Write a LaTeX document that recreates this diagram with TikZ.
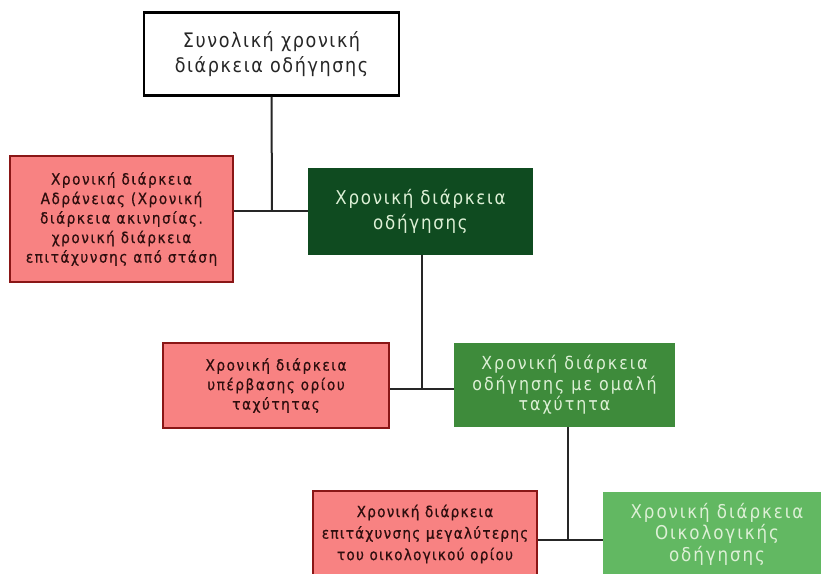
\documentclass[tikz,border=0pt]{standalone}
\usepackage{fontspec}
\usepackage{xcolor}
\usepackage{tikz}
\setmainfont{DejaVu Sans}
\newfontfamily\boxfont[FakeStretch=0.88]{DejaVu Sans}
\definecolor{redfill}{HTML}{F88282}
\definecolor{redline}{HTML}{8A1616}
\definecolor{redtext}{HTML}{2E0E0E}
\definecolor{darkgreen}{HTML}{0F4B20}
\definecolor{midgreen}{HTML}{3E8B3B}
\definecolor{lightgreen}{HTML}{62B862}
\definecolor{greentext}{HTML}{DDF0D6}

\begin{document}
\begin{tikzpicture}[x=1pt,y=-1pt,
    topbox/.style={draw=black,line width=2.4pt,fill=white,align=center,
      minimum width=255pt,minimum height=83pt,inner sep=0pt,
      font=\boxfont\fontsize{20}{25}\selectfont\addfontfeature{LetterSpace=8},text=black!85},
    redbox/.style={draw=redline,line width=2.4pt,fill=redfill,align=center,
      inner sep=0pt,font=\boxfont\fontsize{15.5}{19.5}\selectfont\addfontfeature{LetterSpace=10,FakeBold=0.5},text=redtext},
    greenbox/.style={draw=none,align=center,inner sep=0pt,
      font=\boxfont\fontsize{19}{21.5}\selectfont\addfontfeature{LetterSpace=10},text=greentext},
    link/.style={line width=2pt,black!85}]
    \clip (0,0) rectangle (821,573);
    \fill[white] (0,0) rectangle (821,573);
    \node [topbox] (total) at (271.5,54) {Συνολική χρονική\\διάρκεια οδήγησης};
    \node [redbox,minimum width=223pt,minimum height=126pt] (idle) at (121.5,219)
      {Χρονική διάρκεια\\Αδράνειας (Χρονική\\διάρκεια ακινησίας.\\χρονική διάρκεια\\επιτάχυνσης από στάση};
    \node [greenbox,fill=darkgreen,minimum width=225pt,minimum height=87pt,
      font=\boxfont\fontsize{19}{25}\selectfont\addfontfeature{LetterSpace=9}] (drive) at (420.5,211.5)
      {Χρονική διάρκεια\\οδήγησης};
    \node [redbox,minimum width=226pt,minimum height=85pt] (speeding) at (276,385.5)
      {Χρονική διάρκεια\\υπέρβασης ορίου\\ταχύτητας};
    \node [greenbox,fill=midgreen,minimum width=221pt,minimum height=84pt,
      font=\boxfont\fontsize{18}{20.5}\selectfont\addfontfeature{LetterSpace=11}] (smooth) at (564.5,385)
      {Χρονική διάρκεια\\οδήγησης με ομαλή\\ταχύτητα};
    \node [redbox,minimum width=224pt,minimum height=86pt,
      font=\boxfont\fontsize{15.5}{21.5}\selectfont\addfontfeature{LetterSpace=8,FakeBold=0.5}] (accel) at (425,534)
      {Χρονική διάρκεια\\επιτάχυνσης μεγαλύτερης\\του οικολογικού ορίου};
    \node [greenbox,fill=lightgreen,minimum width=228pt,minimum height=84pt] (eco) at (717,534)
      {Χρονική διάρκεια\\Οικολογικής\\οδήγησης};
    \coordinate (jdrive) at (272,211);
    \coordinate (jsmooth) at (422,389);
    \coordinate (jeco) at (568,540);
    \draw [link] (total.south) -- (jdrive);
    \draw [link] (idle.east |- jdrive) -- (drive.west |- jdrive);
    \draw [link] (jsmooth |- drive.south) -- (jsmooth);
    \draw [link] (speeding.east |- jsmooth) -- (smooth.west |- jsmooth);
    \draw [link] (jeco |- smooth.south) -- (jeco);
    \draw [link] (accel.east |- jeco) -- (eco.west |- jeco);
\end{tikzpicture}
\end{document}
